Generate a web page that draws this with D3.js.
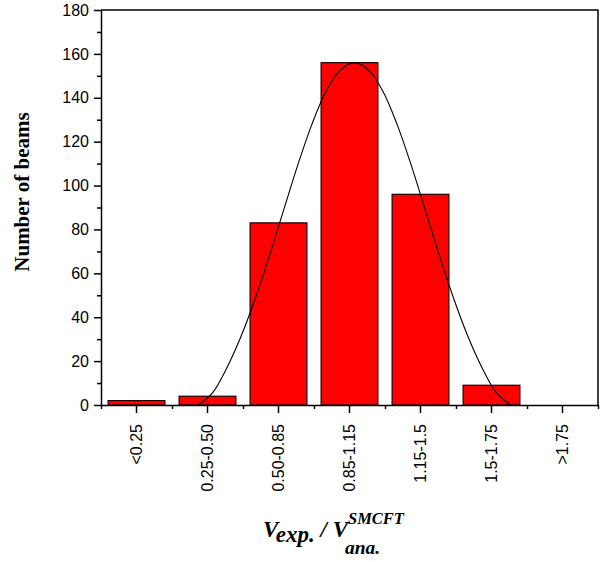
<!DOCTYPE html>
<html>
<head>
<meta charset="utf-8">
<script src="https://cdn.jsdelivr.net/npm/d3@7"></script>
<style>
  body { margin: 0; background: #fff; }
  .eje text { font-family: "Liberation Sans", Arial, sans-serif; font-size: 16px; fill: #000; }
  .eje path, .eje line { stroke: #000; stroke-width: 1.5px; }
</style>
</head>
<body>
<div id="graf"></div>
<script>
// I. Datos
categorias = ['<0.25', '0.25-0.50', '0.50-0.85', '0.85-1.15', '1.15-1.5', '1.5-1.75', '>1.75']
vigas = [2, 4, 83, 156, 96, 9, 0]
ticksY = [0, 20, 40, 60, 80, 100, 120, 140, 160, 180]
ticksMenoresY = [10, 30, 50, 70, 90, 110, 130, 150, 170]

// curva normal (posición de categoría, número de vigas)
curvaPos = [0.87, 1.07, 1.27, 1.47, 1.67, 1.87, 2.07, 2.27, 2.47, 2.67, 2.87, 3.07,
            3.27, 3.47, 3.67, 3.87, 4.07, 4.27, 4.47, 4.67, 4.87, 5.07, 5.27]
curvaVal = [0, 5.5, 16.8, 31.1, 48.3, 67.8, 88.6, 109.2, 127.9, 143, 152.6, 156,
            152.6, 143, 127.9, 109.2, 88.6, 67.8, 48.3, 31.1, 16.8, 5.5, 0]

// II. Configuración
ancho_total = 605
alto_total = 562
margins = { top: 10, left: 101, right: 7, bottom: 157 }
ancho = ancho_total - margins.left - margins.right
alto = alto_total - margins.top - margins.bottom

svg = d3.select('#graf').append('svg')
        .attr('width', ancho_total)
        .attr('height', alto_total)

g = svg.append('g')
       .attr('transform', `translate(${margins.left}, ${margins.top})`)

y = d3.scaleLinear()
      .domain([0, 180])
      .range([alto, 0])

x = d3.scaleBand()
      .domain(categorias)
      .range([0, ancho])
      .paddingInner(0.2)
      .paddingOuter(0.1)

xc = d3.scaleLinear()
       .domain([-0.5, categorias.length - 0.5])
       .range([0, ancho])

// III. Barras
g.selectAll('rect.val')
  .data(categorias.map((c, i) => ({ cat: c, n: vigas[i] })))
  .enter()
  .append('rect')
    .attr('class', 'val')
    .attr('x', d => x(d.cat))
    .attr('y', d => y(d.n))
    .attr('width', x.bandwidth())
    .attr('height', d => alto - y(d.n))
    .style('fill', '#ff0000')
    .style('stroke', d => d.n > 0 ? '#200000' : 'none')
    .style('stroke-width', '1.2px')

// curva
g.append('clipPath').attr('id', 'clip')
  .append('rect').attr('width', ancho).attr('height', alto)

linea = d3.line()
          .x((d, i) => xc(d))
          .y((d, i) => y(curvaVal[i]))
          .curve(d3.curveCatmullRom)

g.append('path')
  .datum(curvaPos)
  .attr('d', linea)
  .attr('clip-path', 'url(#clip)')
  .style('fill', 'none')
  .style('stroke', '#000')
  .style('stroke-width', '1.1px')

// IV. Ejes
yAxisGroup = g.append('g').attr('class', 'eje')
yAxisGroup.call(d3.axisLeft(y).tickValues(ticksY).tickSize(7).tickSizeOuter(0).tickPadding(5))

yMinor = g.append('g').attr('class', 'eje')
yMinor.call(d3.axisLeft(y).tickValues(ticksMenoresY).tickSize(4).tickSizeOuter(0).tickFormat(''))
yMinor.select('.domain').remove()

xAxisGroup = g.append('g')
              .attr('class', 'eje')
              .attr('transform', `translate(0, ${alto})`)
xAxisGroup.call(d3.axisBottom(x).tickSize(8).tickSizeOuter(0))
xAxisGroup.selectAll('text')
          .attr('transform', 'rotate(-90)')
          .attr('x', '-19px')
          .attr('y', '0px')
          .attr('dy', '0.35em')
          .attr('text-anchor', 'end')

xMinor = g.append('g')
          .attr('class', 'eje')
          .attr('transform', `translate(0, ${alto})`)
xMinor.call(d3.axisBottom(d3.scaleLinear().domain([0, categorias.length]).range([0, ancho]))
              .ticks(categorias.length).tickSize(4).tickSizeOuter(0).tickFormat(''))
xMinor.select('.domain').remove()

// marco
g.append('path')
  .attr('d', `M0,0H${ancho}V${alto}`)
  .style('fill', 'none')
  .style('stroke', '#000')
  .style('stroke-width', '1.5px')

// V. Títulos
svg.append('text')
   .attr('transform', 'translate(29, 192) rotate(-90)')
   .attr('text-anchor', 'middle')
   .style('font-family', '"Liberation Serif", "Times New Roman", serif')
   .style('font-weight', 'bold')
   .style('font-size', '21px')
   .text('Number of beams')

titulo = svg.append('text')
            .attr('x', 263)
            .attr('y', 537)
            .style('font-family', '"Liberation Serif", "Times New Roman", serif')
            .style('font-weight', 'bold')
            .style('font-style', 'italic')
            .style('font-size', '23px')
titulo.append('tspan').text('V')
titulo.append('tspan').attr('dy', 5).text('exp.')
titulo.append('tspan').attr('dy', -5).text(' / V')
sup = titulo.append('tspan').attr('dy', -13).style('font-size', '16.5px').text('SMCFT')

xsup = sup.node().getStartPositionOfChar(0).x
svg.append('text')
   .attr('x', xsup - 3)
   .attr('y', 554)
   .style('font-family', '"Liberation Serif", "Times New Roman", serif')
   .style('font-weight', 'bold')
   .style('font-style', 'italic')
   .style('font-size', '19.5px')
   .text('ana.')
</script>
</body>
</html>
